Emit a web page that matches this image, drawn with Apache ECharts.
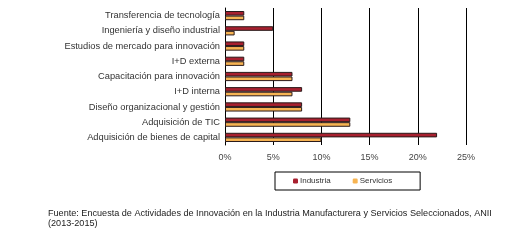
<!DOCTYPE html>
<html>
<head>
<meta charset="utf-8">
<script src="https://cdn.jsdelivr.net/npm/echarts@6/dist/echarts.min.js"></script>
<style>
  html, body { margin: 0; padding: 0; background: #fff; }
  #chart { width: 517px; height: 240px; }
</style>
</head>
<body>
<div id="chart"></div>
<script>
// categorias, de abajo hacia arriba
var categorias = [
  "Adquisición de bienes de capital",
  "Adquisición de TIC",
  "Diseño organizacional y gestión",
  "I+D interna",
  "Capacitación para innovación",
  "I+D externa",
  "Estudios de mercado para innovación",
  "Ingeniería y diseño industrial",
  "Transferencia de tecnología"
];
var industria = [22, 13, 8, 8, 7, 2, 2, 5, 2]; // %
var servicios = [10, 13, 8, 7, 7, 2, 2, 1, 2]; // %
var ticksX = [0, 5, 10, 15, 20, 25];

var fuente = "Fuente: Encuesta de Actividades de Innovación en la Industria Manufacturera y Servicios Seleccionados, ANII\n(2013-2015)";

var myChart = echarts.init(document.getElementById("chart"));
var fontFam = "Liberation Sans, Arial, sans-serif";

var option = {
  animation: false,
  grid: { left: 225, top: 8, width: 241, height: 137, containLabel: false },
  legend: {
    data: ["Industria", "Servicios"],
    left: 275, top: 172,
    padding: [5, 28, 5, 18],
    itemGap: 22,
    itemWidth: 5, itemHeight: 5,
    itemStyle: { borderWidth: 0 },
    borderColor: "#000", borderWidth: 1,
    textStyle: { fontSize: 8, color: "#333", fontFamily: fontFam, padding: [0, 0, 0, -3] }
  },
  xAxis: {
    type: "value",
    min: ticksX[0], max: ticksX[ticksX.length - 1], interval: 5,
    axisLine: { show: false },
    axisTick: { show: false },
    axisLabel: { formatter: "{value}%", fontSize: 9, color: "#444", fontFamily: fontFam, margin: 8 },
    splitLine: { show: true, lineStyle: { color: "#000", width: 1 } }
  },
  yAxis: {
    type: "category",
    data: categorias,
    axisLine: { show: true, lineStyle: { color: "#000", width: 1 } },
    axisTick: { show: false },
    axisLabel: { fontSize: 9.3, color: "#333", fontFamily: fontFam, margin: 5 }
  },
  series: [
    {
      name: "Industria", type: "bar", data: industria,
      barWidth: 4.6, barGap: "0%",
      itemStyle: { color: "#A8202F", borderColor: "#2a1a1a", borderWidth: 1 }
    },
    {
      name: "Servicios", type: "bar", data: servicios,
      barWidth: 4.6, barGap: "0%",
      itemStyle: { color: "#F7B452", borderColor: "#2a1a1a", borderWidth: 1 }
    }
  ],
  graphic: [{
    type: "text", left: 48, top: 208,
    style: { text: fuente, fontSize: 9.1, fill: "#222", fontFamily: fontFam, lineHeight: 10 }
  }]
};

myChart.setOption(option);
</script>
</body>
</html>
